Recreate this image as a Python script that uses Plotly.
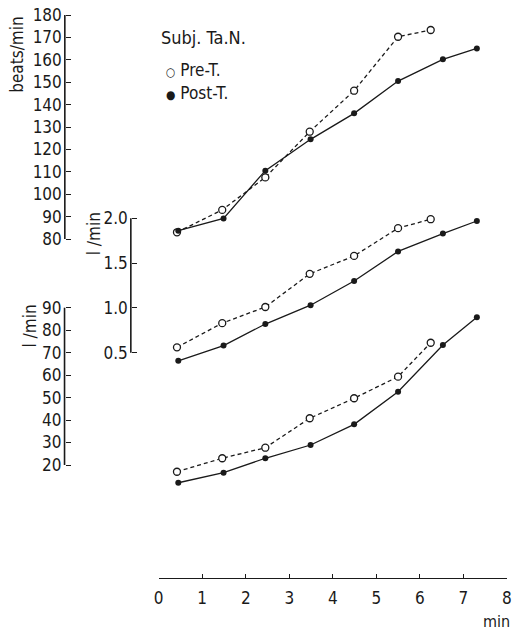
import plotly.graph_objects as go

# ---- data ----
t_pre = [0.42, 1.46, 2.45, 3.47, 4.49, 5.50, 6.25]
t_post = [0.45, 1.49, 2.45, 3.49, 4.49, 5.50, 6.53, 7.31]

hr_pre = [83.0, 93.0, 107.5, 127.9, 146.2, 170.3, 173.3]
hr_post = [83.7, 89.2, 110.5, 124.5, 136.1, 150.5, 160.2, 165.1]

o2_pre = [0.56, 0.83, 1.01, 1.38, 1.58, 1.89, 1.99]
o2_post = [0.41, 0.58, 0.82, 1.03, 1.30, 1.63, 1.83, 1.97]

ve_pre = [17.0, 23.0, 27.7, 40.8, 49.7, 59.3, 74.4]
ve_post = [12.1, 16.6, 23.0, 28.9, 38.1, 52.6, 73.4, 85.7]

x_ticks = [0, 1, 2, 3, 4, 5, 6, 7, 8]
hr_ticks = [80, 90, 100, 110, 120, 130, 140, 150, 160, 170, 180]
o2_ticks = [0.5, 1.0, 1.5, 2.0]
o2_labels = ["0.5", "1.0", "1.5", "2.0"]
ve_ticks = [20, 30, 40, 50, 60, 70, 80, 90]

W, H = 521, 630
FONT = "DejaVu Sans Condensed, Liberation Sans Narrow, Arial Narrow, sans-serif"
INK = "#1a1a1a"

fig = go.Figure()

def add_pair(xp, yp, xq, yq, yaxis):
    fig.add_trace(go.Scatter(
        x=xp, y=yp, yaxis=yaxis, mode="lines+markers", showlegend=False,
        line=dict(color=INK, width=1.3, dash="4px,3px"),
        marker=dict(symbol="circle", size=7, color="white",
                    line=dict(color=INK, width=1.3)),
        cliponaxis=False))
    fig.add_trace(go.Scatter(
        x=xq, y=yq, yaxis=yaxis, mode="lines+markers", showlegend=False,
        line=dict(color=INK, width=1.3),
        marker=dict(symbol="circle", size=6, color=INK),
        cliponaxis=False))

add_pair(t_pre, hr_pre, t_post, hr_post, "y")
add_pair(t_pre, o2_pre, t_post, o2_post, "y2")
add_pair(t_pre, ve_pre, t_post, ve_post, "y3")

# pixel layout helpers (paper fractions)
def px(x):
    return x / W

def py(y):
    return 1 - y / H

def yrange(v_top, y_top, v_bot, y_bot):
    # linear map so that the given values land at given pixel rows
    k = (v_top - v_bot) / (y_bot - y_top)
    return [v_bot - (H - y_bot) * k, v_top + y_top * k]

x0px, x8px = 156.7, 511.7
axis_common = dict(showgrid=False, zeroline=False, showline=False,
                   ticks="inside", ticklen=5, tickwidth=1.3, tickcolor=INK,
                   tickfont=dict(family=FONT, size=17, color=INK),
                   anchor="free", side="left", ticklabelstandoff=3)

fig.update_layout(
    width=W, height=H, autosize=False,
    margin=dict(l=0, r=0, t=0, b=0),
    paper_bgcolor="white", plot_bgcolor="white",
    xaxis=dict(domain=[px(x0px), px(x8px)], range=[0, 8],
               tickvals=x_ticks, ticks="inside", ticklen=4, tickwidth=1.2,
               tickcolor=INK, showline=True, linecolor=INK, linewidth=1.3,
               showgrid=False, zeroline=False, anchor="free",
               position=py(578),
               tickfont=dict(family=FONT, size=17, color=INK),
               ticklabelstandoff=4),
    yaxis=dict(domain=[0, 1], range=yrange(180, 15, 80, 239),
               tickvals=hr_ticks, position=px(61), **axis_common),
    yaxis2=dict(domain=[0, 1], range=yrange(2.0, 218.3, 0.5, 352.7),
                tickvals=o2_ticks, ticktext=o2_labels, position=px(128.3),
                overlaying="y", **axis_common),
    yaxis3=dict(domain=[0, 1], range=yrange(90, 307.7, 20, 465),
                tickvals=ve_ticks, position=px(60.7),
                overlaying="y", **axis_common),
)

# axis spines limited to the labelled span
for yref, lo, hi, xp in [("y", 80, 180, 61), ("y2", 0.5, 2.0, 128.3),
                         ("y3", 20, 90, 60.7)]:
    fig.add_shape(type="line", xref="paper", yref=yref, x0=px(xp), x1=px(xp),
                  y0=lo, y1=hi, line=dict(color=INK, width=1.6))

def note(text, x, y, xref="paper", yref="paper", angle=0, size=16,
         xanchor="left", yanchor="middle"):
    fig.add_annotation(text=text, x=x, y=y, xref=xref, yref=yref,
                       textangle=angle, showarrow=False, xanchor=xanchor,
                       yanchor=yanchor,
                       font=dict(family=FONT, size=size, color=INK))

# axis titles
note("beats/min", px(12), py(55), angle=-90, xanchor="center", size=17)
note("l /min", px(91), py(234), angle=-90, xanchor="center", size=17)
note("l /min", px(25), py(326), angle=-90, xanchor="center", size=17)
note("min", px(501), py(621), xanchor="center", size=16)

# key
note("Subj. Ta.N.", px(157), py(37), size=18)
note("<span style='font-size:12px'>\u25CB</span> Pre-T.", px(162), py(70), size=17)
note("<span style='font-size:12px'>\u25CF</span> Post-T.", px(162), py(93), size=17)

# curve labels
note("Heart rate", 8.03, 134.5, xref="x", yref="y", xanchor="right")
note("Oxygen  uptake", 8.03, 1.233, xref="x", yref="y2", xanchor="right")
note("Ventilation", 8.03, 44.5, xref="x", yref="y3", xanchor="right")

fig.write_html("out.html")
